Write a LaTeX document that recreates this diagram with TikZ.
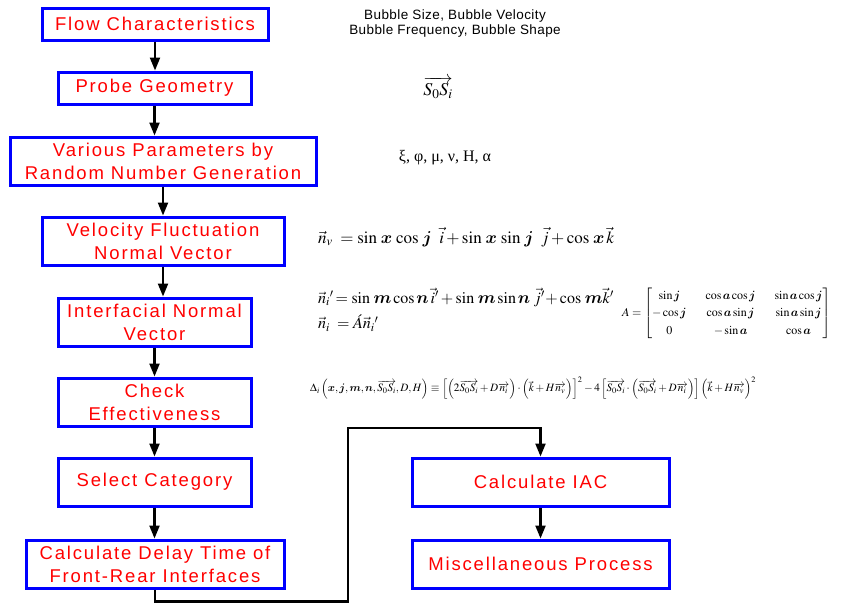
\documentclass[tikz,border=0pt]{standalone}
\usepackage{amsmath,bm}
\usepackage{mathptmx}
\usepackage[no-math]{fontspec}
\setmainfont{Liberation Sans}
\newfontfamily\grfont{Liberation Serif}
\usetikzlibrary{arrows.meta}

\begin{document}
\begin{tikzpicture}[x=1pt, y=-1pt,
    box/.style={draw=blue, line width=3pt, text=red, align=center, inner sep=0pt,
        font=\fontsize{18.5}{23}\selectfont\addfontfeature{LetterSpace=10}},
    flow/.style={line width=2.2pt, -{Triangle[length=13pt, width=10pt]}},
    eqn/.style={anchor=west, inner sep=0pt, font=\fontsize{16}{18}\selectfont}]
    \useasboundingbox (0,0) rectangle (841,603);

    % Left column of steps
    \node[box, minimum width=226, minimum height=32] (flowchar) at (155,24) {Flow Characteristics};
    \node[box, minimum width=193, minimum height=32] (probe) at (154.5,88) {Probe Geometry};
    \node[box, minimum width=306, minimum height=48] (params) at (163,161) {Various Parameters by\\Random Number Generation};
    \node[box, minimum width=242, minimum height=48] (velo) at (163,241) {Velocity Fluctuation\\ Normal Vector};
    \node[box, minimum width=193, minimum height=48] (inter) at (154.5,322) {Interfacial Normal\\Vector};
    \node[box, minimum width=193, minimum height=48] (check) at (154.5,402) {Check\\Effectiveness};
    \node[box, minimum width=193, minimum height=48] (select) at (154.5,482) {Select Category};
    \node[box, minimum width=258, minimum height=48] (delay) at (155,564) {Calculate Delay Time of\\Front-Rear Interfaces};

    % Right column of steps
    \node[box, minimum width=257, minimum height=48] (iac) at (540.5,482) {Calculate IAC};
    \node[box, minimum width=257, minimum height=48] (misc) at (540.5,564) {Miscellaneous Process};

    % Arrows down the left column
    \foreach \a/\b in {flowchar/probe, probe/params, params/velo, velo/inter,
                       inter/check, check/select, select/delay} {
        \draw[flow] (\a.south) -- (\a.south |- \b.north);
    }
    \draw[flow] (iac) -- (misc);

    % Loop from the last step over to the IAC
    \coordinate (loopa) at (348,601.5);
    \coordinate (loopb) at (348,428);
    \draw[flow] (delay.south) |- (loopa) -- (loopb) -| (iac.north);

    % Notes beside the steps
    \node[align=center, inner sep=0pt, font=\fontsize{13.5}{15}\selectfont\addfontfeature{LetterSpace=3}] (bubble) at (455,24)
        {Bubble Size, Bubble Velocity\\Bubble Frequency, Bubble Shape};
    \node[inner sep=0pt, font=\fontsize{18}{20}\selectfont] (sos) at (438,88) {$\overrightarrow{S_0S_i}$};
    \node[inner sep=0pt, font=\fontsize{16}{18}\selectfont\grfont] (greek) at (445,158) {ξ, φ, μ, ν, H, α};
    \node[eqn, font=\fontsize{17}{18}\selectfont] (nv) at (318,237)
        {$\vec{n}_{v} \;= \sin\,\bm{x}\,\cos\,\bm{j}\;\;\vec{i} + \sin\,\bm{x}\,\sin\,\bm{j}\;\;\vec{j} + \cos\,\bm{x}\,\vec{k}$};
    \node[eqn] (nip) at (318,297)
        {$\vec{n}_i{}' \!= \sin\,\bm{m}\cos\bm{n}\,\vec{i}' + \sin\,\bm{m}\sin\bm{n}\;\vec{j}' \!+ \cos\,\bm{m}\vec{k}'$};
    \node[eqn] (ni) at (318,323) {$\vec{n}_i \;= \acute{A}\vec{n}_i{}'$};
    \node[eqn, font=\fontsize{12}{14}\selectfont] (amat) at (622,313)
        {\setlength\arraycolsep{9.5pt}\renewcommand\arraystretch{1.25}%
         $A=\begin{bmatrix} \sin\bm{j} & \cos\bm{a}\cos\bm{j} & \sin\bm{a}\cos\bm{j}\\
            -\cos\bm{j} & \cos\bm{a}\sin\bm{j} & \sin\bm{a}\sin\bm{j}\\
            0 & -\sin\bm{a} & \cos\bm{a}\end{bmatrix}$};
    \node[eqn, font=\fontsize{11.2}{12}\selectfont] (delta) at (310,388)
        {$\Delta_i\left(\bm{x},\bm{j},\bm{m},\bm{n},\overrightarrow{S_0S_i},D,H\right) \equiv
          \left[\left(2\overrightarrow{S_0S_i}+D\overrightarrow{n_i}\right)\cdot\left(\vec{k}+H\overrightarrow{n_v}\right)\right]^2
          - 4\left[\overrightarrow{S_0S_i}\cdot\left(\overrightarrow{S_0S_i}+D\overrightarrow{n_i}\right)\right]\left(\vec{k}+H\overrightarrow{n_v}\right)^2$};

\end{tikzpicture}
\end{document}
